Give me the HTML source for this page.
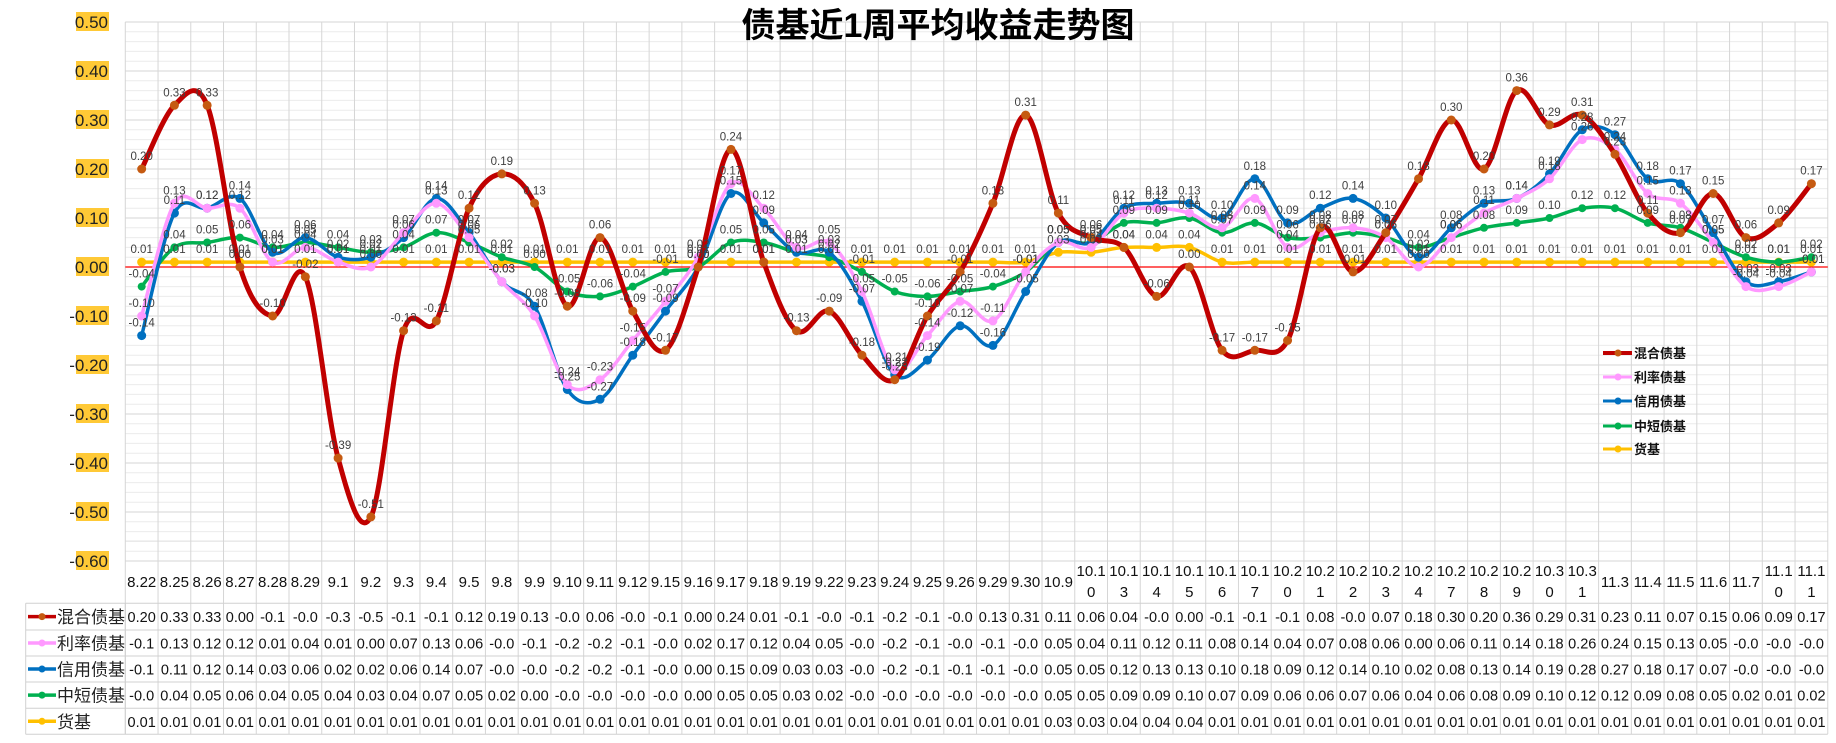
<!DOCTYPE html>
<html><head><meta charset="utf-8"><style>
html,body{margin:0;padding:0;background:#fff;}
svg{display:block;font-family:"Liberation Sans","Noto Sans CJK SC",sans-serif;}
</style></head><body>
<svg id="chart" width="1836" height="743" viewBox="0 0 1836 743" xmlns="http://www.w3.org/2000/svg">
<g id="grid"></g>
<g id="yaxis"></g>
<g id="series"></g>
<g id="labels"></g>
<g id="table"></g>
<text x="938" y="37" text-anchor="middle" font-size="34" font-weight="bold" fill="#000">债基近1周平均收益走势图</text>
<g id="legend"></g>
</svg>
<script>
const categories = ["8.22","8.25","8.26","8.27","8.28","8.29","9.1","9.2","9.3","9.4","9.5","9.8","9.9","9.10","9.11","9.12","9.15","9.16","9.17","9.18","9.19","9.22","9.23","9.24","9.25","9.26","9.29","9.30","10.9","10.10","10.13","10.14","10.15","10.16","10.17","10.20","10.21","10.22","10.23","10.24","10.27","10.28","10.29","10.30","10.31","11.3","11.4","11.5","11.6","11.7","11.10","11.11"];
const hybridValues = [0.20,0.33,0.33,0.00,-0.10,-0.02,-0.39,-0.51,-0.13,-0.11,0.12,0.19,0.13,-0.08,0.06,-0.09,-0.17,0.00,0.24,0.01,-0.13,-0.09,-0.18,-0.23,-0.10,-0.01,0.13,0.31,0.11,0.06,0.04,-0.06,0.00,-0.17,-0.17,-0.15,0.08,-0.01,0.07,0.18,0.30,0.20,0.36,0.29,0.31,0.23,0.11,0.07,0.15,0.06,0.09,0.17];
const rateValues = [-0.10,0.13,0.12,0.12,0.01,0.04,0.01,0.00,0.07,0.13,0.06,-0.03,-0.10,-0.24,-0.23,-0.15,-0.07,0.02,0.17,0.12,0.04,0.05,-0.05,-0.21,-0.14,-0.07,-0.11,-0.01,0.05,0.04,0.11,0.12,0.11,0.08,0.14,0.04,0.07,0.08,0.06,0.00,0.06,0.11,0.14,0.18,0.26,0.24,0.15,0.13,0.05,-0.04,-0.04,-0.01];
const creditValues = [-0.14,0.11,0.12,0.14,0.03,0.06,0.02,0.02,0.06,0.14,0.07,-0.03,-0.08,-0.25,-0.27,-0.18,-0.09,0.00,0.15,0.09,0.03,0.03,-0.07,-0.22,-0.19,-0.12,-0.16,-0.05,0.05,0.05,0.12,0.13,0.13,0.10,0.18,0.09,0.12,0.14,0.10,0.02,0.08,0.13,0.14,0.19,0.28,0.27,0.18,0.17,0.07,-0.03,-0.03,-0.01];
const shortValues = [-0.04,0.04,0.05,0.06,0.04,0.05,0.04,0.03,0.04,0.07,0.05,0.02,0.00,-0.05,-0.06,-0.04,-0.01,0.00,0.05,0.05,0.03,0.02,-0.01,-0.05,-0.06,-0.05,-0.04,-0.01,0.05,0.05,0.09,0.09,0.10,0.07,0.09,0.06,0.06,0.07,0.06,0.04,0.06,0.08,0.09,0.10,0.12,0.12,0.09,0.08,0.05,0.02,0.01,0.02];
const moneyValues = [0.01,0.01,0.01,0.01,0.01,0.01,0.01,0.01,0.01,0.01,0.01,0.01,0.01,0.01,0.01,0.01,0.01,0.01,0.01,0.01,0.01,0.01,0.01,0.01,0.01,0.01,0.01,0.01,0.03,0.03,0.04,0.04,0.04,0.01,0.01,0.01,0.01,0.01,0.01,0.01,0.01,0.01,0.01,0.01,0.01,0.01,0.01,0.01,0.01,0.01,0.01,0.01];
const seriesNames = ["混合债基","利率债基","信用债基","中短债基","货基"];
const yTicks = [0.5,0.4,0.3,0.2,0.1,0,-0.1,-0.2,-0.3,-0.4,-0.5,-0.6];

const NS="http://www.w3.org/2000/svg";
const X0=125.3, COLW=32.74, YTOP=22, YMAX=0.5, YMIN=-0.6, YBOT=561;
function xPos(i){return X0+COLW*(i+0.5);}
function yPos(v){return YTOP+(YMAX-v)/(YMAX-YMIN)*(YBOT-YTOP);}
function mk(tag,attrs,parent){const e=document.createElementNS(NS,tag);for(const k in attrs)e.setAttribute(k,attrs[k]);parent.appendChild(e);return e;}
const grid=document.getElementById('grid'),yaxis=document.getElementById('yaxis'),series=document.getElementById('series'),labels=document.getElementById('labels'),table=document.getElementById('table'),legend=document.getElementById('legend');
const n=categories.length, XR=X0+COLW*n;

// minor grid
for(let v=YMAX;v>=YMIN-1e-9;v-=0.02){const y=yPos(v);const l=mk('line',{x1:X0,x2:XR,y1:y,y2:y,stroke:'#ececec','stroke-width':1},grid);

}
// spreadsheet lines below plot
[541,561].forEach(y=>{const l=mk('line',{x1:X0,x2:XR,y1:y,y2:y,stroke:'#e4e4e4','stroke-width':1},grid);

});
yTicks.forEach(v=>{const y=yPos(v);const l=mk('line',{x1:X0,x2:XR,y1:y,y2:y,stroke:'#d6d6d6','stroke-width':1},grid);


const r=mk('rect',{x:76,y:y-10,width:33,height:19,fill:'#ffc936'},yaxis);


const t=mk('text',{x:108,y:y+6,'text-anchor':'end','font-size':17,fill:'#222'},yaxis);t.textContent=v.toFixed(2);

});
for(let i=0;i<=n;i++){const x=X0+COLW*i;const l=mk('line',{x1:x,x2:x,y1:YTOP,y2:734,stroke:'#d6d6d6','stroke-width':1},grid);

}
// zero line
const z=mk('line',{x1:X0,x2:XR,y1:yPos(0),y2:yPos(0),stroke:'#ff0000','stroke-width':1.2},grid);



const allSeries=[
 {vals:hybridValues,color:'#c00000',w:5,r:4.5,fill:'#c55a11',key:'hybrid'},
 {vals:rateValues,color:'#ff99ff',w:3.5,r:4.5,fill:'#ff99ff',key:'rate'},
 {vals:creditValues,color:'#0070c0',w:3.5,r:4.5,fill:'#0070c0',key:'credit'},
 {vals:shortValues,color:'#00b050',w:3.5,r:4,fill:'#00b050',key:'short'},
 {vals:moneyValues,color:'#ffc000',w:3.5,r:4.5,fill:'#ffc000',key:'money'}];

function smoothPath(pts){let d='M'+pts[0][0]+','+pts[0][1];
for(let i=0;i<pts.length-1;i++){const p0=pts[i-1]||pts[i],p1=pts[i],p2=pts[i+1],p3=pts[i+2]||pts[i+1];
const c1=[p1[0]+(p2[0]-p0[0])/6,p1[1]+(p2[1]-p0[1])/6],c2=[p2[0]-(p3[0]-p1[0])/6,p2[1]-(p3[1]-p1[1])/6];
d+=' C'+c1[0].toFixed(1)+','+c1[1].toFixed(1)+' '+c2[0].toFixed(1)+','+c2[1].toFixed(1)+' '+p2[0].toFixed(1)+','+p2[1].toFixed(1);}return d;}

for(let s=allSeries.length-1;s>=0;s--){const S=allSeries[s];
const pts=S.vals.map((v,i)=>[xPos(i),yPos(v)]);
const p=mk('path',{d:smoothPath(pts),fill:'none',stroke:S.color,'stroke-width':S.w,'stroke-linejoin':'round'},series);


pts.forEach((q,i)=>{const c=mk('circle',{cx:q[0],cy:q[1],r:S.r,fill:S.fill},series);


const t=mk('text',{x:q[0],y:q[1]-9,'text-anchor':'middle','font-size':11.5,fill:'#404040'},labels);t.textContent=S.vals[i].toFixed(2);

});}

// x labels
categories.forEach((c,i)=>{const x=xPos(i);
if(c.length>=5){[c.slice(0,4),c.slice(4)].forEach((s,k)=>{const t=mk('text',{x:x,y:576+k*21,'text-anchor':'middle','font-size':15,fill:'#111'},table);t.textContent=s;

});}
else{const t=mk('text',{x:x,y:587,'text-anchor':'middle','font-size':15,fill:'#111'},table);t.textContent=c;

}});
// table
const rowY=[603.3,630,656,682,708.3,734.3];
rowY.forEach(y=>{const l=mk('line',{x1:25.7,x2:XR,y1:y,y2:y,stroke:'#d0d0d0','stroke-width':1},table);

});
[25.7,X0].forEach(x=>{const l=mk('line',{x1:x,x2:x,y1:603.3,y2:734.3,stroke:'#d0d0d0','stroke-width':1},table);

});
function fmt(v){if(v<0){const t=Math.trunc(v*10)/10;return '-'+Math.abs(t).toFixed(1);}return v.toFixed(2);}
allSeries.forEach((S,s)=>{const cy=(rowY[s]+rowY[s+1])/2;
const l=mk('line',{x1:28,x2:56,y1:cy,y2:cy,stroke:S.color,'stroke-width':3.5},table);


const c=mk('circle',{cx:42,cy:cy,r:3.5,fill:S.fill},table);


const nm=mk('text',{x:57,y:cy+6.5,'font-size':17,fill:'#222'},table);nm.textContent=seriesNames[s];


S.vals.forEach((v,i)=>{const t=mk('text',{x:xPos(i),y:cy+5.5,'text-anchor':'middle','font-size':14.5,fill:'#111'},table);t.textContent=fmt(v);

});});
// legend
const legY=[353,377,401,426,449];
allSeries.forEach((S,s)=>{const y=legY[s];
const l=mk('line',{x1:1603,x2:1632,y1:y,y2:y,stroke:S.color,'stroke-width':S.key==='hybrid'?4:3},legend);


const c=mk('circle',{cx:1618,cy:y,r:3.5,fill:S.fill},legend);


const t=mk('text',{x:1634,y:y+5,'font-size':13,'font-weight':'bold',fill:'#111'},legend);t.textContent=seriesNames[s];

});
</script>
</body></html>
